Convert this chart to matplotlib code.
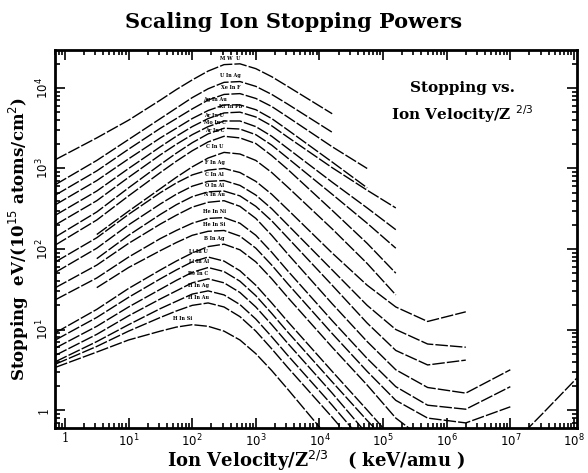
import numpy as np
import matplotlib
matplotlib.use('Agg')
from matplotlib import pyplot as plt
from matplotlib.ticker import LogLocator, FuncFormatter, NullFormatter

nan = np.nan

# log10 of ion velocity / Z^(2/3)  (keV/amu), shared sample points
log_e = [-0.15, 0.5, 1.0, 1.5, 1.75, 2.0, 2.25, 2.5, 2.75, 3.0, 3.25, 3.5,
         4.2, 4.75, 5.2, 5.7, 6.3, 7.0, 7.5, 8.05]

# log10 of stopping (eV / 1e15 atoms/cm2), one list per ion/target pair
c01 = [3.11, 3.38, 3.60, 3.85, 3.98, 4.10, 4.21, 4.29, 4.30, 4.24, 4.14, 4.02, 3.68]
c02 = [2.80, 3.10, 3.36, 3.62, 3.75, 3.88, 3.99, 4.07, 4.08, 4.02, 3.92, 3.80, 3.45]
c03 = [2.67, 2.97, 3.24, 3.50, 3.62, 3.74, 3.85, 3.92, 3.93, 3.87, 3.77, 3.64, 3.27, 3.00]
c04 = [2.55, 2.85, 3.12, 3.38, 3.50, 3.62, 3.72, 3.79, 3.79, 3.73, 3.62, 3.48, 3.08, 2.76]
c05 = [2.42, 2.72, 3.00, 3.27, 3.40, 3.52, 3.62, 3.69, 3.70, 3.64, 3.53, 3.39, 3.01, 2.73, 2.51]
c06 = [2.30, 2.60, 2.89, 3.17, 3.30, 3.42, 3.52, 3.59, 3.59, 3.52, 3.40, 3.25, 2.83, 2.51, 2.24]
c07 = [2.15, 2.46, 2.76, 3.05, 3.19, 3.32, 3.43, 3.50, 3.49, 3.42, 3.29, 3.13, 2.68, 2.32, 2.01]
c08 = [2.05, 2.36, 2.66, 2.95, 3.09, 3.22, 3.33, 3.40, 3.38, 3.31, 3.16, 2.99, 2.48, 2.07, 1.70]
c09 = [nan, 2.18, 2.47, 2.75, 2.89, 3.02, 3.13, 3.20, 3.18, 3.10, 2.95, 2.77, 2.25, 1.82, 1.43]
c10 = [1.84, 2.14, 2.43, 2.70, 2.82, 2.92, 2.98, 3.00, 2.95, 2.84, 2.68, 2.49, 1.95, 1.55, 1.28, 1.10, 1.22]
c11 = [1.71, 2.01, 2.30, 2.56, 2.68, 2.78, 2.84, 2.85, 2.79, 2.67, 2.50, 2.30, 1.74, 1.30, 1.00, 0.82, 0.78]
c12 = [nan, 1.88, 2.17, 2.43, 2.55, 2.65, 2.71, 2.72, 2.66, 2.53, 2.35, 2.14, 1.55, 1.08, 0.74, 0.56, 0.62]
c13 = [1.52, 1.80, 2.07, 2.31, 2.42, 2.52, 2.58, 2.60, 2.53, 2.38, 2.17, 1.94, 1.32, 0.85, 0.50, 0.28, 0.21, 0.50]
c14 = [1.37, 1.64, 1.90, 2.13, 2.23, 2.32, 2.38, 2.39, 2.32, 2.17, 1.96, 1.73, 1.11, 0.64, 0.29, 0.06, 0.01, 0.29]
c15 = [nan, 1.52, 1.77, 1.98, 2.08, 2.17, 2.22, 2.23, 2.16, 2.01, 1.80, 1.57, 0.95, 0.48, 0.12, -0.10, -0.16, 0.04]
c16 = [0.96, 1.25, 1.51, 1.74, 1.85, 1.95, 2.03, 2.06, 1.99, 1.84, 1.63, 1.40, 0.78, 0.31, -0.10, -0.40, -0.55, -0.45, -0.05, 0.40]
c17 = [0.87, 1.15, 1.40, 1.63, 1.74, 1.84, 1.90, 1.85, 1.73, 1.55, 1.33, 1.10, 0.48, 0.00, -0.40]
c18 = [0.77, 1.04, 1.28, 1.50, 1.61, 1.71, 1.77, 1.72, 1.60, 1.42, 1.20, 0.97, 0.35, -0.13, -0.50]
c19 = [0.68, 0.94, 1.17, 1.38, 1.48, 1.58, 1.63, 1.58, 1.46, 1.28, 1.06, 0.83, 0.21, -0.30]
c20 = [0.60, 0.85, 1.06, 1.26, 1.35, 1.44, 1.48, 1.43, 1.31, 1.13, 0.91, 0.68, 0.06, -0.45]
c21 = [0.57, 0.79, 0.98, 1.15, 1.23, 1.30, 1.33, 1.28, 1.16, 0.98, 0.76, 0.53, -0.09, -0.60]
c22 = [0.53, 0.72, 0.87, 0.98, 1.03, 1.06, 1.04, 0.98, 0.87, 0.70, 0.49, 0.26, -0.40]

curves = [c01, c02, c03, c04, c05, c06, c07, c08, c09, c10, c11,
          c12, c13, c14, c15, c16, c17, c18, c19, c20, c21, c22]
labels = ['M W  U', 'U In Ag', 'Xe In F', 'Ag In Au', 'Kr In Pb', 'Ar In U',
          'Mo In C', 'Ar In C', 'C In U', 'F In Ag', 'C In Al', 'O In Al',
          'N In Au', 'He In Ni', 'He In Si', 'B In Ag', 'Li In U', 'Li In Al',
          'Be In C', 'H In Ag', 'H In Au', 'H In Si']

x_ticks = [0, 1, 2, 3, 4, 5, 6, 7, 8]
y_ticks = [0, 1, 2, 3, 4]

fig = plt.figure(figsize=(5.88, 4.73), dpi=100)
ax = fig.add_axes([0.0935, 0.095, 0.888, 0.799])

serif = 'DejaVu Serif'

for c, lab in zip(curves, labels):
    y = np.array(c + [nan] * (len(log_e) - len(c)))
    x = np.array(log_e)
    ax.plot(10 ** x, 10 ** y, color='black', lw=1.0, ls=(0, (9, 1.5)))
    k = int(np.nanargmax(y))
    ax.text(10 ** (x[k] - 0.15), 10 ** (y[k] + 0.04), lab, fontsize=3.5,
            fontweight='bold', family=serif, ha='center', va='bottom')

ax.set_xscale('log')
ax.set_yscale('log')
ax.set_xlim(10 ** -0.157, 10 ** 8.05)
ax.set_ylim(10 ** -0.224, 10 ** 4.47)

def fmt(v, pos):
    n = int(round(np.log10(v)))
    return '1' if n == 0 else '$10^{%d}$' % n

ax.set_xticks([10.0 ** t for t in x_ticks])
ax.set_yticks([10.0 ** t for t in y_ticks])
ax.xaxis.set_major_formatter(FuncFormatter(fmt))
ax.yaxis.set_major_formatter(FuncFormatter(fmt))
ax.xaxis.set_minor_locator(LogLocator(base=10, subs=np.arange(2, 10), numticks=20))
ax.yaxis.set_minor_locator(LogLocator(base=10, subs=np.arange(2, 10), numticks=20))
ax.xaxis.set_minor_formatter(NullFormatter())
ax.yaxis.set_minor_formatter(NullFormatter())
ax.tick_params(which='both', direction='in', top=True, right=True, width=1.2)
ax.tick_params(which='major', length=7, labelsize=8.5, pad=3)
ax.tick_params(which='minor', length=3.5)
for lab in ax.get_yticklabels():
    lab.set_rotation(90)
    lab.set_va('center')
for lab in ax.get_xticklabels() + ax.get_yticklabels():
    lab.set_family(serif)
for s in ax.spines.values():
    s.set_linewidth(2)

ax.set_xlabel('Ion Velocity/Z$^{2/3}$   ( keV/amu )', fontsize=13,
              fontweight='bold', family=serif, labelpad=0)
ax.set_ylabel('Stopping  eV/(10$^{15}$ atoms/cm$^2$)', fontsize=12,
              fontweight='bold', family=serif, labelpad=2)
fig.text(0.5, 0.953, 'Scaling Ion Stopping Powers', fontsize=15,
         fontweight='bold', family=serif, ha='center', va='center')
ax.text(0.78, 0.9, 'Stopping vs.', transform=ax.transAxes, fontsize=11,
        fontweight='bold', family=serif, ha='center', va='center')
ax.text(0.78, 0.83, 'Ion Velocity/Z $^{2/3}$', transform=ax.transAxes,
        fontsize=11, fontweight='bold', family=serif, ha='center', va='center')

fig.savefig('out.png', dpi=100)
